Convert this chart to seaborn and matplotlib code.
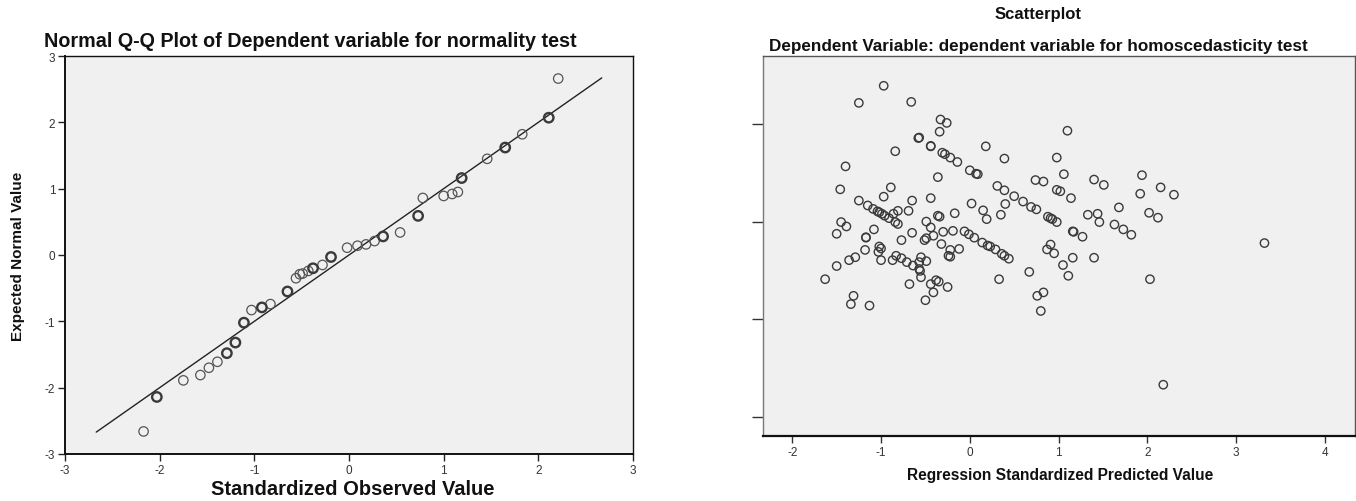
import numpy as np
import pandas as pd
import matplotlib
matplotlib.use("Agg")
import matplotlib.pyplot as plt
import seaborn as sns

# ---------------- Data ----------------
# Left: Normal Q-Q plot (observed standardized value, expected normal value, count of overlapping cases)
qq_observed = [2.21, 2.11, 1.83, 1.65, 1.46, 1.19, 1.15, 1.09, 1.00, 0.78, 0.73, 0.54,
               0.36, 0.27, 0.18, 0.09, -0.02, -0.19, -0.28, -0.38, -0.43, -0.49, -0.52,
               -0.56, -0.65, -0.83, -0.92, -1.03, -1.11, -1.20, -1.29, -1.39, -1.48,
               -1.57, -1.75, -2.03, -2.17]
qq_expected = [2.66, 2.07, 1.82, 1.62, 1.45, 1.16, 0.95, 0.92, 0.89, 0.86, 0.59, 0.34,
               0.28, 0.21, 0.16, 0.14, 0.11, -0.03, -0.15, -0.20, -0.24, -0.28, -0.29,
               -0.35, -0.55, -0.74, -0.79, -0.83, -1.02, -1.32, -1.48, -1.61, -1.70,
               -1.81, -1.89, -2.14, -2.66]
qq_counts = [1, 2, 1, 2, 1, 2, 1, 1, 1, 1, 2, 1,
             2, 1, 1, 1, 1, 2, 1, 2, 1, 1, 1,
             1, 2, 1, 2, 1, 2, 2, 2, 1, 1,
             1, 1, 2, 1]
qq_line = [-2.67, 2.67]

# Right: residual scatterplot (standardized predicted value, standardized residual)
pred = [-0.97, -1.25, -0.66, -0.33, -0.26, -0.34, 1.10, -0.58, -0.57, -0.44, -0.44, 0.18,
        -0.84, -0.31, -0.28, -0.22, -0.14, 0.39, 0.98, -1.40, 0.00, 0.07, 0.09, 1.06,
        -0.36, 0.74, 0.83, 1.40, 1.51, 1.94, 2.15, 2.30, 1.92, -1.46, -0.89, -0.97,
        0.31, 0.39, 0.50, 0.60, 0.69, 0.75, 0.98, 1.02, 1.14, -0.44, -0.65, -1.25,
        -1.15, -1.09, -1.04, -1.02, -0.99, -0.96, -0.91, -0.86, -0.81, -0.69, -0.84,
        -0.81, 0.02, 0.15, 0.40, 0.35, -0.17, -0.36, -0.34, -0.49, 0.19, 0.88, 0.91,
        0.93, 0.98, 1.33, 1.44, 1.46, 1.68, 2.02, 2.12, 1.63, 1.73, 1.82, 1.17, 1.16,
        1.27, -1.45, -1.39, -1.50, -1.08, -1.17, -1.17, -1.18, -1.36, -1.29, -1.50,
        -1.63, -0.44, -0.41, -0.30, -0.19, -0.49, -0.51, -0.77, -0.65, -0.06, -0.01,
        0.05, 0.14, 0.20, 0.23, 0.29, 0.36, 0.39, 0.44, -0.32, -0.22, -0.12, -0.24,
        -0.22, -1.02, -1.00, -1.03, -1.00, -0.87, -0.83, -0.77, -0.71, -0.64, -0.57,
        -0.55, -0.49, -0.57, -0.56, -0.55, -0.68, -0.44, -0.38, -0.35, -0.41, -0.25,
        -0.50, -1.31, -1.34, -1.13, 0.33, 0.67, 0.87, 0.91, 0.95, 1.05, 1.11, 1.16,
        1.40, 0.76, 0.83, 0.80, 2.03, 3.32, 2.18]
resid = [2.78, 2.43, 2.45, 2.09, 2.02, 1.84, 1.86, 1.71, 1.72, 1.54, 1.55, 1.54,
         1.44, 1.41, 1.38, 1.31, 1.22, 1.29, 1.31, 1.13, 1.05, 0.98, 0.97, 0.97,
         0.91, 0.85, 0.82, 0.86, 0.75, 0.95, 0.70, 0.55, 0.57, 0.66, 0.70, 0.51,
         0.73, 0.64, 0.52, 0.41, 0.30, 0.25, 0.65, 0.62, 0.48, 0.48, 0.43, 0.43,
         0.33, 0.26, 0.21, 0.19, 0.16, 0.12, 0.07, 0.16, 0.22, 0.22, -0.01,
         -0.05, 0.37, 0.23, 0.36, 0.14, 0.17, 0.12, 0.10, 0.00, 0.05, 0.10, 0.07,
         0.05, -0.01, 0.14, 0.16, -0.01, 0.29, 0.18, 0.08, -0.06, -0.16, -0.27, -0.21, -0.20,
         -0.31, -0.01, -0.10, -0.25, -0.16, -0.33, -0.32, -0.58, -0.79, -0.73, -0.91,
         -1.18, -0.12, -0.29, -0.21, -0.19, -0.34, -0.38, -0.38, -0.23, -0.20, -0.26,
         -0.33, -0.43, -0.49, -0.51, -0.57, -0.66, -0.70, -0.76, -0.46, -0.58, -0.56, -0.70,
         -0.72, -0.51, -0.55, -0.62, -0.79, -0.79, -0.70, -0.75, -0.83, -0.90, -0.83,
         -0.73, -0.81, -0.97, -1.01, -1.14, -1.28, -1.28, -1.20, -1.23, -1.45, -1.34,
         -1.61, -1.52, -1.69, -1.72, -1.18, -1.03, -0.57, -0.47, -0.65, -0.89, -1.11, -0.74,
         -0.74, -1.52, -1.45, -1.83, -1.18, -0.44, -3.34]

qq_ticks = [-3, -2, -1, 0, 1, 2, 3]
sc_xticks = [-2, -1, 0, 1, 2, 3, 4]
sc_yticks = [-4, -2, 0, 2]

# ---------------- Figure ----------------
sns.set_theme(style="white")
plt.rcParams["font.family"] = ["Liberation Sans", "DejaVu Sans"]

fig = plt.figure(figsize=(13.56, 5.02), dpi=100)
W, H = 1356, 502

def box(x0, y0, x1, y1):
    return [x0 / W, 1 - y1 / H, (x1 - x0) / W, (y1 - y0) / H]

bg = "#F0F0F0"
pt_color = "#3a3a3a"

# ---- Left: Q-Q plot ----
ax1 = fig.add_axes(box(65, 57, 633, 455))
ax1.set_facecolor(bg)
qq_df = pd.DataFrame({"obs": qq_observed, "exp": qq_expected, "n": qq_counts})
sns.lineplot(x=qq_line, y=qq_line, ax=ax1, color="#222222", linewidth=1.0)
for n, lw in [(1, 0.9), (2, 1.7)]:
    sub = qq_df[qq_df["n"] == n]
    sns.scatterplot(data=sub, x="obs", y="exp", ax=ax1, marker="o", s=46,
                    facecolor="none", edgecolor=pt_color if n == 2 else "#555555",
                    linewidth=lw, zorder=3)
ax1.set_xlim(-3, 3)
ax1.set_ylim(-3, 3)
ax1.set_xticks(qq_ticks)
ax1.set_yticks(qq_ticks)
ax1.set_xticklabels([str(t) for t in qq_ticks])
ax1.set_yticklabels([str(t) for t in qq_ticks])
ax1.tick_params(axis="both", which="major", direction="out", length=5, width=1,
                color="#222222", labelsize=8.5, labelcolor="#333333", pad=2,
                bottom=True, left=True)
for s in ax1.spines.values():
    s.set_color("#111111")
    s.set_linewidth(1.0)
ax1.spines["left"].set_linewidth(1.4)
ax1.spines["bottom"].set_linewidth(1.4)
ax1.set_xlabel("")
ax1.set_ylabel("")

fig.text(310 / W, 1 - 47 / H, "Normal Q-Q Plot of Dependent variable for normality test",
         ha="center", va="baseline", fontsize=14.2, fontweight="bold", color="#111111")
fig.text(353 / W, 1 - 490 / H, "Standardized Observed Value", ha="center", va="center",
         fontsize=14.5, fontweight="bold", color="#111111")
fig.text(18 / W, 1 - 256 / H, "Expected Normal Value", ha="center", va="center",
         rotation=90, fontsize=11, fontweight="bold", color="#111111")

# ---- Right: residual scatterplot ----
ax2 = fig.add_axes(box(763, 57, 1355, 437))
ax2.set_facecolor(bg)
sc_df = pd.DataFrame({"pred": pred, "resid": resid})
sns.scatterplot(data=sc_df, x="pred", y="resid", ax=ax2, marker="o", s=36,
                facecolor="none", edgecolor=pt_color, linewidth=1.0, zorder=3)
ax2.set_xlim(-2.33, 4.34)
ax2.set_ylim(-4.39, 3.39)
ax2.set_xticks(sc_xticks)
ax2.set_xticklabels([str(t) for t in sc_xticks])
ax2.set_yticks(sc_yticks)
ax2.set_yticklabels([])
ax2.tick_params(axis="x", direction="out", length=5, width=1, color="#333333",
                labelsize=8.5, labelcolor="#333333", pad=2, bottom=True)
ax2.tick_params(axis="y", direction="out", length=8, width=1, color="#333333", left=True)
for name, s in ax2.spines.items():
    s.set_color("#555555")
    s.set_linewidth(1.0)
ax2.spines["bottom"].set_color("#111111")
ax2.spines["bottom"].set_linewidth(1.6)
ax2.spines["left"].set_color("#777777")
ax2.set_xlabel("")
ax2.set_ylabel("")

fig.text(1038 / W, 1 - 14 / H, "Scatterplot", ha="center", va="center",
         fontsize=12, fontweight="bold", color="#111111")
fig.text(1038 / W, 1 - 47 / H,
         "Dependent Variable: dependent variable for homoscedasticity test",
         ha="center", va="center", fontsize=12.3, fontweight="bold", color="#111111")
fig.text(1060 / W, 1 - 476 / H, "Regression Standardized Predicted Value",
         ha="center", va="center", fontsize=11.2, fontweight="bold", color="#111111")

fig.savefig("out.png", dpi=100, facecolor="white")
